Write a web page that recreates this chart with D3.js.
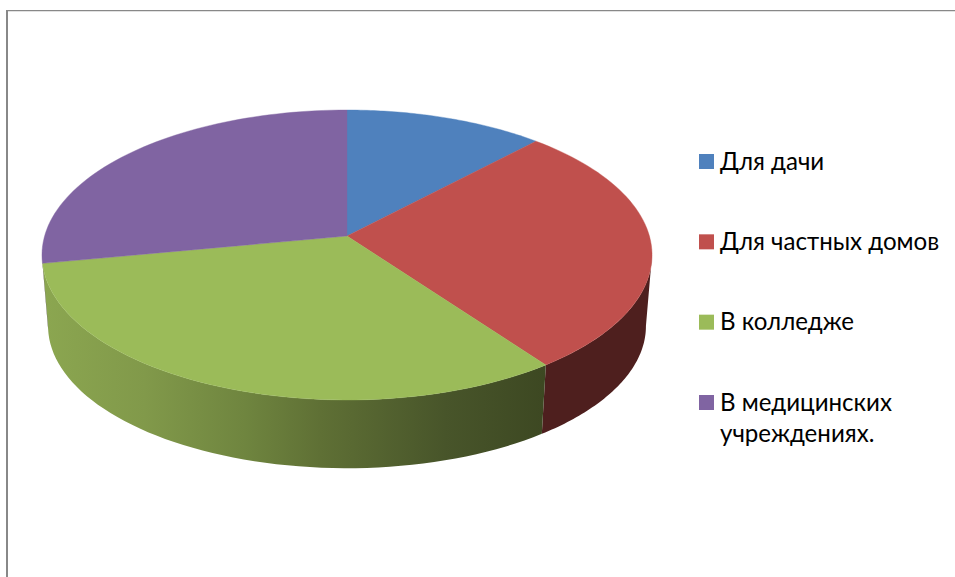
<!DOCTYPE html>
<html>
<head>
<meta charset="utf-8">
<script src="https://cdn.jsdelivr.net/npm/d3@7"></script>
<style>
  html, body { margin: 0; padding: 0; background: #fff; overflow: hidden; }
  text { font-family: Lato, "Open Sans", sans-serif; font-size: 24.1px; fill: #000; }
</style>
</head>
<body>
<div id="chart"></div>
<script>
const categories = ["Для дачи", "Для частных домов", "В колледже", "В медицинских учреждениях."];
const values = [12, 28, 32, 28];
const topColors = ["#4f81bd", "#c0504d", "#9bbb59", "#8064a2"];
const sideColors = ["#2f4d71", "#4e1f1e", "url(#greenSide)", "#6a5089"];
const legendLines = [["Для дачи"], ["Для частных домов"], ["В колледже"], ["В медицинских", "учреждениях."]];

const width = 955;
const height = 577;

const svg = d3
  .select("#chart")
  .append("svg")
  .attr("width", width)
  .attr("height", height);

// frame, only top and left are in the picture
svg
  .append("path")
  .attr("d", `M7 ${height} V10`)
  .attr("stroke", "#888")
  .attr("stroke-width", 2);
svg
  .append("path")
  .attr("d", `M6 10.6 H${width}`)
  .attr("stroke", "#888")
  .attr("stroke-width", 1.3);

const grad = svg
  .append("defs")
  .append("linearGradient")
  .attr("id", "greenSide")
  .attr("gradientUnits", "userSpaceOnUse")
  .attr("x1", 45)
  .attr("x2", 545)
  .attr("y1", 0)
  .attr("y2", 0);
[
  [0, "#8ba650"],
  [0.2, "#81994a"],
  [0.4, "#6f853f"],
  [0.55, "#5f7035"],
  [0.8, "#48552a"],
  [1, "#3d4822"],
].forEach(([o, c]) => grad.append("stop").attr("offset", o).attr("stop-color", c));

// perspective of the disc: apex is above the middle of the ellipse
const cx = 347;
const cy = 236;
const k = 0.131;
const a = 302.4;
const b = 142.5;
const depthScale = 0.98;
const depthShift = 71.5;

function project(angle, r = 1) {
  const u = r * Math.sin(angle);
  const v = -r * Math.cos(angle);
  const w = 1 - k * v;
  return [cx + (a * u) / w, cy + (b * v) / w];
}
const lower = ([x, y]) => [
  cx + (x - cx) * depthScale,
  cy + (y - cy) * depthScale + depthShift,
];

const line = d3.line();
const arcPoints = (start, end) =>
  d3.range(0, 61).map((i) => project(start + ((end - start) * i) / 60));

const slices = d3.pie().sort(null)(values);

// silhouette of the disc, the wall shows only between these two angles
const visibleStart = Math.PI - Math.acos(k);
const visibleEnd = Math.PI + Math.acos(k);

svg
  .append("g")
  .selectAll("path")
  .data(slices.filter((d) => d.endAngle > visibleStart && d.startAngle < visibleEnd))
  .join("path")
  .attr("fill", (d) => sideColors[d.index])
  .attr("d", (d) => {
    const pts = arcPoints(
      Math.max(d.startAngle, visibleStart),
      Math.min(d.endAngle, visibleEnd)
    );
    return line([...pts, ...pts.map(lower).reverse()]) + "Z";
  });

svg
  .append("g")
  .selectAll("path")
  .data(slices)
  .join("path")
  .attr("fill", (d) => topColors[d.index])
  .attr("stroke", (d) => topColors[d.index])
  .attr("stroke-width", 0.4)
  .attr("d", (d) => line([[cx, cy], ...arcPoints(d.startAngle, d.endAngle)]) + "Z");

// legend
const legendY = d3.scaleLinear().domain([0, 3]).range([154, 395]);
const legend = svg
  .append("g")
  .selectAll("g")
  .data(categories)
  .join("g")
  .attr("transform", (d, i) => `translate(699,${legendY(i)})`);

legend
  .append("rect")
  .attr("width", 15)
  .attr("height", 15)
  .attr("fill", (d, i) => topColors[i]);

legend
  .append("text")
  .attr("x", 21)
  .attr("y", 15.5)
  .selectAll("tspan")
  .data((d, i) => legendLines[i])
  .join("tspan")
  .attr("x", 21)
  .attr("dy", (d, i) => (i ? 31 : 0))
  .text((d) => d);
</script>
</body>
</html>
